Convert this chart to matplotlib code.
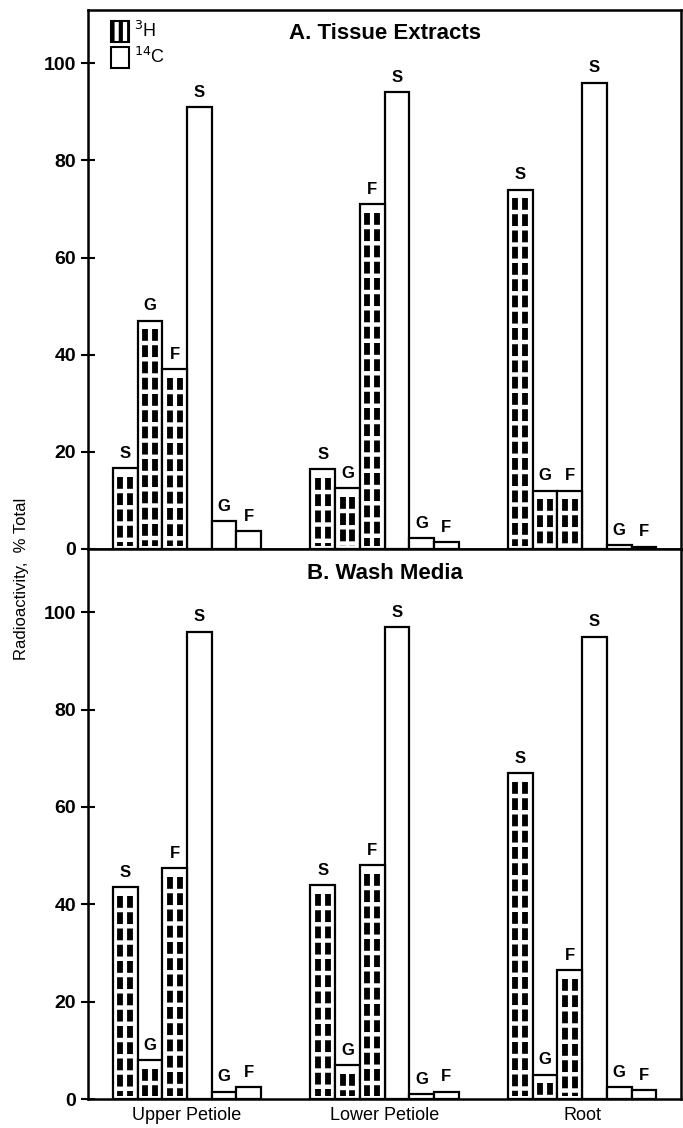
import matplotlib
matplotlib.use("Agg")
import matplotlib.pyplot as plt
from matplotlib.patches import Patch
import numpy as np

plt.rcParams['font.family'] = ['Liberation Sans', 'DejaVu Sans']
plt.rcParams['lines.scale_dashes'] = False
plt.rcParams['hatch.linewidth'] = 3

tissues = ['Upper Petiole', 'Lower Petiole', 'Root']
fractions = ['S', 'G', 'F']

# A. Tissue extracts (% of total)
extract_3h = [[16.7, 47.0, 37.0], [16.5, 12.5, 71.0], [74.0, 12.0, 12.0]]
extract_14c = [[91.0, 5.7, 3.7], [94.0, 2.3, 1.4], [96.0, 0.8, 0.5]]

# B. Wash media (% of total)
wash_3h = [[43.5, 8.0, 47.5], [44.0, 7.0, 48.0], [67.0, 5.0, 26.5]]
wash_14c = [[96.0, 1.5, 2.5], [97.0, 1.0, 1.5], [95.0, 2.5, 1.8]]

yticks = [0, 20, 40, 60, 80, 100]

w = 0.125
x = np.arange(len(tissues))

fig = plt.figure(figsize=(6.83, 11.28), dpi=100)
ax1 = fig.add_axes([0.129, 0.5133, 0.868, 0.478])
ax2 = fig.add_axes([0.129, 0.0257, 0.868, 0.4876])


def draw_panel(ax, h3, c14, title, ytop):
    for i in range(len(tissues)):
        for j in range(3):
            xh = x[i] + (j - 2.5) * w
            v = h3[i][j]
            ax.bar(xh, v, width=w, facecolor='white', edgecolor='black', linewidth=1.6)
            if v > 3:
                # dashes start at the top of the bar and run down
                for off in (-0.2, 0.2):
                    ax.vlines(xh + off * w, v - 1.8, 0.6, colors='black', linewidth=4.2,
                              linestyles=[(0, (8.5, 3.2))])
            ax.text(xh, v + 1.5, fractions[j], ha='center', va='bottom',
                    fontsize=12, fontweight='bold')
            xc = x[i] + (j + 0.5) * w
            v = c14[i][j]
            ax.bar(xc, v, width=w, facecolor='white', edgecolor='black', linewidth=1.6)
            ax.text(xc, v + 1.5, fractions[j], ha='center', va='bottom',
                    fontsize=12, fontweight='bold')
    ax.set_xlim(-0.5, 2.5)
    ax.set_ylim(0, ytop)
    ax.set_yticks(yticks)
    ax.tick_params(axis='y', direction='inout', length=10, width=1.5, labelsize=14)
    for lab in ax.get_yticklabels():
        lab.set_fontweight('bold')
    for s in ax.spines.values():
        s.set_linewidth(1.8)
    ax.text(0.5, 0.975, title, transform=ax.transAxes, ha='center', va='top',
            fontsize=16, fontweight='bold')


draw_panel(ax1, extract_3h, extract_14c, 'A. Tissue Extracts', 111)
draw_panel(ax2, wash_3h, wash_14c, 'B. Wash Media', 113)

ax1.set_xticks([])
ax2.set_xticks(x)
ax2.set_xticklabels(tissues, fontsize=13)
ax2.tick_params(axis='x', length=0, pad=6)

handles = [Patch(facecolor='white', edgecolor='black', hatch='||', linewidth=1.5),
           Patch(facecolor='white', edgecolor='black', linewidth=1.5)]
leg = ax1.legend(handles, ['$^{3}$H', '$^{14}$C'], loc='upper left',
                 bbox_to_anchor=(0.02, 1.0), frameon=False, fontsize=13,
                 handlelength=1.0, handleheight=1.4, handletextpad=0.3,
                 labelspacing=0.3, borderaxespad=0.2)

fig.text(0.032, 0.487, 'Radioactivity,  % Total', rotation=90, ha='center',
         va='center', fontsize=12)

fig.savefig('out.png', dpi=100)
